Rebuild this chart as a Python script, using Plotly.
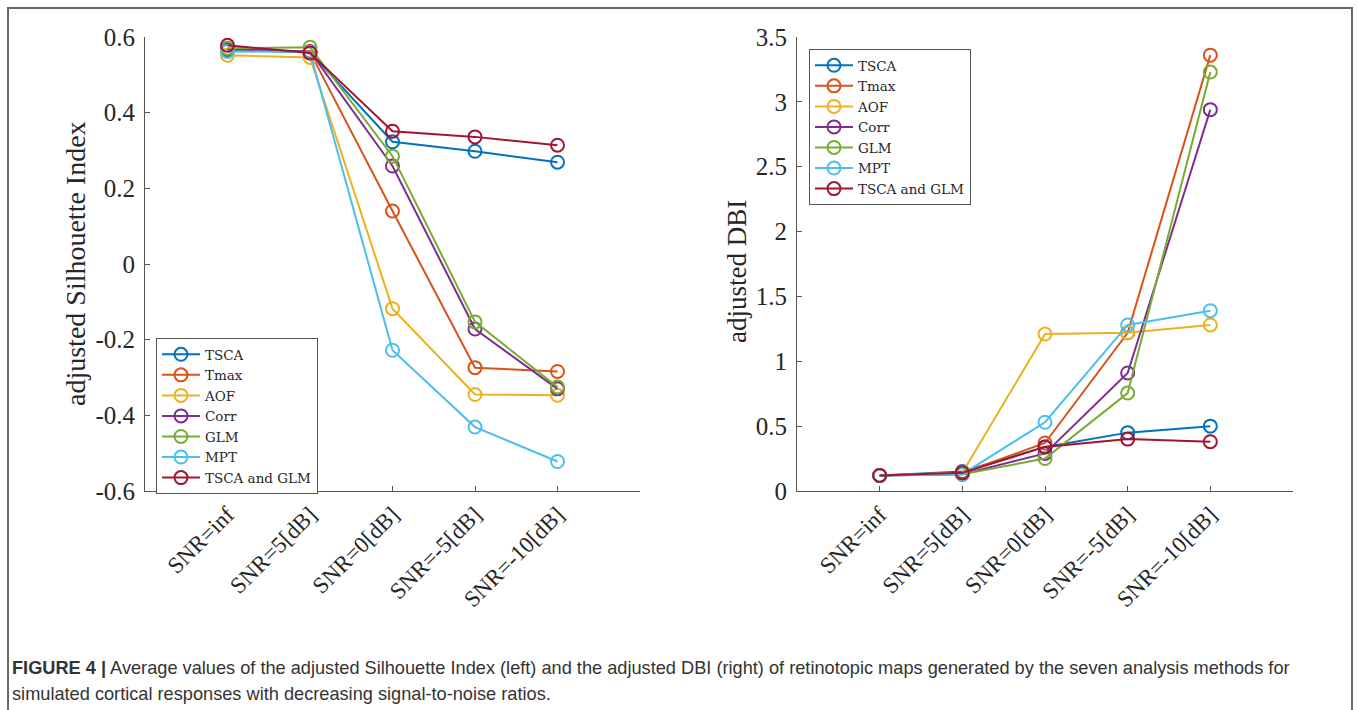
import plotly.graph_objects as go

W, H = 1357, 710

categories = ["SNR=inf", "SNR=5[dB]", "SNR=0[dB]", "SNR=-5[dB]", "SNR=-10[dB]"]
methods = ["TSCA", "Tmax", "AOF", "Corr", "GLM", "MPT", "TSCA and GLM"]
colors = ["#0072BD", "#D95319", "#EDB120", "#7E2F8E", "#77AC30", "#4DBEEE", "#A2142F"]

# adjusted Silhouette Index (left)
sil_tsca = [0.565, 0.560, 0.323, 0.298, 0.269]
sil_tmax = [0.568, 0.560, 0.140, -0.274, -0.284]
sil_aof = [0.552, 0.546, -0.118, -0.345, -0.347]
sil_corr = [0.568, 0.562, 0.259, -0.172, -0.330]
sil_glm = [0.570, 0.573, 0.285, -0.153, -0.325]
sil_mpt = [0.562, 0.560, -0.228, -0.431, -0.522]
sil_tsca_glm = [0.578, 0.558, 0.351, 0.336, 0.314]

# adjusted DBI (right)
dbi_tsca = [0.12, 0.15, 0.34, 0.45, 0.50]
dbi_tmax = [0.12, 0.14, 0.37, 1.22, 3.36]
dbi_aof = [0.12, 0.14, 1.21, 1.22, 1.28]
dbi_corr = [0.12, 0.13, 0.29, 0.91, 2.94]
dbi_glm = [0.12, 0.13, 0.25, 0.755, 3.23]
dbi_mpt = [0.12, 0.13, 0.53, 1.28, 1.39]
dbi_tsca_glm = [0.12, 0.14, 0.34, 0.40, 0.38]

sil_ticks = [-0.6, -0.4, -0.2, 0, 0.2, 0.4, 0.6]
sil_ticktext = ["-0.6", "-0.4", "-0.2", "0", "0.2", "0.4", "0.6"]
dbi_ticks = [0, 0.5, 1, 1.5, 2, 2.5, 3, 3.5]
dbi_ticktext = ["0", "0.5", "1", "1.5", "2", "2.5", "3", "3.5"]

sil = [sil_tsca, sil_tmax, sil_aof, sil_corr, sil_glm, sil_mpt, sil_tsca_glm]
dbi = [dbi_tsca, dbi_tmax, dbi_aof, dbi_corr, dbi_glm, dbi_mpt, dbi_tsca_glm]

SERIF = "Liberation Serif"
AX = "#555555"
TXT = "#262626"

fig = go.Figure()
for name, c, ys in zip(methods, colors, sil):
    fig.add_trace(go.Scatter(
        x=categories, y=ys, name=name, mode="lines+markers",
        line=dict(color=c, width=2),
        marker=dict(symbol="circle-open", size=13, color=c, line=dict(width=2, color=c)),
        xaxis="x", yaxis="y", legend="legend"))
for name, c, ys in zip(methods, colors, dbi):
    fig.add_trace(go.Scatter(
        x=categories, y=ys, name=name, mode="lines+markers",
        line=dict(color=c, width=2),
        marker=dict(symbol="circle-open", size=13, color=c, line=dict(width=2, color=c)),
        xaxis="x2", yaxis="y2", legend="legend2"))

def px_x(p):
    return p / W

def px_y(p):
    return 1 - p / H

xcommon = dict(type="category", range=[-1, 5], showline=True, linecolor=AX, linewidth=1,
               ticks="inside", ticklen=5, tickcolor=AX, tickangle=-45, automargin=False,
               tickfont=dict(family=SERIF, size=23, color=TXT),
               showgrid=False, zeroline=False)
ycommon = dict(showline=True, linecolor=AX, linewidth=1, ticks="inside", ticklen=5,
               tickcolor=AX, tickfont=dict(family=SERIF, size=25, color=TXT), automargin=False,
               ticklabelstandoff=4, showgrid=False, zeroline=False)

legcommon = dict(bgcolor="white", bordercolor=AX, borderwidth=1,
                 font=dict(family="DejaVu Serif", size=13.5, color=TXT),
                 xanchor="left", yanchor="top", tracegroupgap=0, itemwidth=38)

fig.update_layout(
    width=W, height=H,
    autosize=False,
    margin=dict(l=0, r=0, t=0, b=0, pad=0, autoexpand=False),
    paper_bgcolor="white", plot_bgcolor="white",
    showlegend=True,
    xaxis=dict(domain=[px_x(145), px_x(640)], anchor="y", **xcommon),
    yaxis=dict(domain=[px_y(491), px_y(37)], anchor="x", range=[-0.6, 0.6],
               tickvals=sil_ticks, ticktext=sil_ticktext, **ycommon),
    xaxis2=dict(domain=[px_x(797), px_x(1293)], anchor="y2", **xcommon),
    yaxis2=dict(domain=[px_y(491), px_y(37)], anchor="x2", range=[0, 3.5],
                tickvals=dbi_ticks, ticktext=dbi_ticktext, **ycommon),
    legend=dict(x=px_x(156), y=px_y(338), **legcommon),
    legend2=dict(x=px_x(809), y=px_y(49), **legcommon),
)

# y-axis titles
fig.add_annotation(text="adjusted Silhouette Index", xref="paper", yref="paper",
                   x=px_x(76), y=px_y(264), textangle=-90, showarrow=False,
                   xanchor="center", yanchor="middle",
                   font=dict(family=SERIF, size=28, color=TXT))
fig.add_annotation(text="adjusted DBI", xref="paper", yref="paper",
                   x=px_x(737), y=px_y(272), textangle=-90, showarrow=False,
                   xanchor="center", yanchor="middle",
                   font=dict(family=SERIF, size=27, color=TXT))

# outer frame of the figure panel
fig.add_shape(type="rect", xref="paper", yref="paper",
              x0=px_x(8), x1=px_x(1352), y0=px_y(716), y1=px_y(8),
              line=dict(color="#666666", width=2), fillcolor="rgba(0,0,0,0)", layer="below")

caption1 = ("<b>FIGURE 4 |</b> Average values of the adjusted Silhouette Index (left) and the adjusted DBI (right) "
            "of retinotopic maps generated by the seven analysis methods for")
caption2 = "simulated cortical responses with decreasing signal-to-noise ratios."
fig.add_annotation(text=caption1, xref="paper", yref="paper", x=px_x(10), y=px_y(668),
                   xanchor="left", yanchor="middle", showarrow=False,
                   font=dict(family="Liberation Sans", size=18.2, color="#333333"))
fig.add_annotation(text=caption2, xref="paper", yref="paper", x=px_x(10), y=px_y(694),
                   xanchor="left", yanchor="middle", showarrow=False,
                   font=dict(family="Liberation Sans", size=18.2, color="#333333"))

fig.write_html("out.html", config={"displayModeBar": False},
               post_script="document.body.style.margin='0px';document.body.style.overflow='hidden';")
